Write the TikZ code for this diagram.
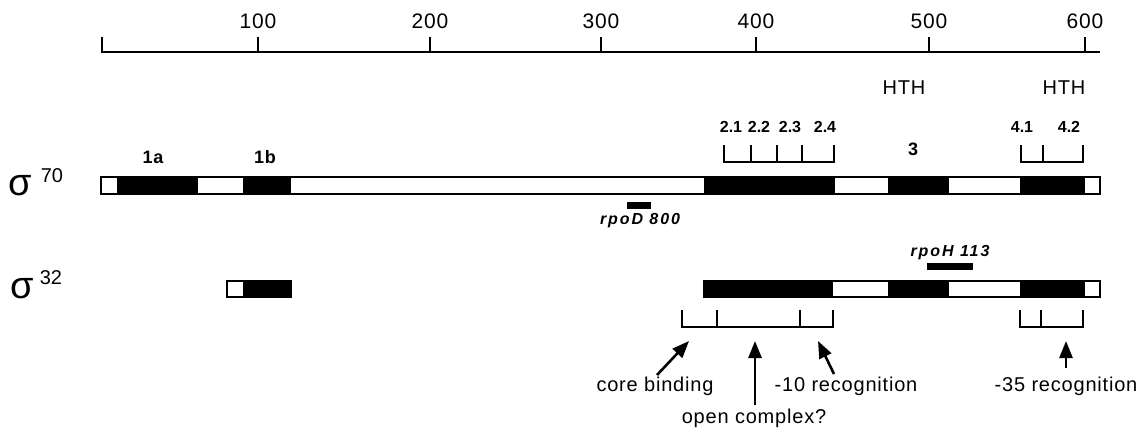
\documentclass[tikz,border=0pt]{standalone}
\usepackage{fontspec}
\setmainfont{Liberation Sans}
\newfontfamily\lblfont[LetterSpace=4]{Liberation Sans}
\newfontfamily\genefont[LetterSpace=12]{Liberation Sans}
\usetikzlibrary{arrows.meta}
\begin{document}
\begin{tikzpicture}[x=1pt,y=-1pt,
  rule/.style={line width=1.8pt},
  barline/.style={line width=1.8pt},
  blk/.style={fill=black},
  lbl/.style={inner sep=0pt},
  ticklbl/.style={lbl,font=\lblfont\fontsize{21}{25}\selectfont},
  regionlbl/.style={lbl,font=\lblfont\fontsize{18}{22}\selectfont\bfseries},
  sublbl/.style={lbl,font=\fontsize{16}{19}\selectfont\bfseries},
  hthlbl/.style={lbl,font=\lblfont\fontsize{20}{24}\selectfont},
  siglbl/.style={lbl,font=\fontsize{38}{44}\selectfont},
  supl/.style={lbl,font=\fontsize{20}{24}\selectfont},
  genelbl/.style={lbl,font=\genefont\fontsize{16}{19}\selectfont\bfseries\itshape},
  funclbl/.style={lbl,font=\lblfont\fontsize{20}{24}\selectfont},
  bigarrow/.style={line width=2.6pt,-{Triangle[length=17pt,width=13pt]}}]
\useasboundingbox (0,0) rectangle (1139,432);

% ---- residue scale ----
\draw[rule] (101,52) -- (1100,52);
\foreach \xx/\lab in {258/100,430/200,601/300,756/400,929/500,1085/600}{
  \draw[rule] (\xx,37) -- (\xx,52);
  \node[ticklbl] (t\lab) at (\xx,21) {\lab};
}
\draw[rule] (102,37) -- (102,52);

% ---- sigma 70 ----
\node[siglbl] (s70) at (20,186) {σ};
\node[supl] (s70n) at (52,176) {70};
\foreach \a/\b in {117/198,243/291,704/835,888/949,1020/1085}
  \fill[blk] (\a,177) rectangle (\b,194);
\draw[barline] (101,177) rectangle (1100,194);

\node[regionlbl] (r1a) at (153,157) {1a};
\node[regionlbl] (r1b) at (265,157) {1b};
\node[regionlbl] (r3) at (913,149) {3};
\node[hthlbl] (hth1) at (904,88) {HTH};
\node[hthlbl] (hth2) at (1064,88) {HTH};

% subregion brackets above sigma 70
\draw[rule] (724,145) -- (724,162) -- (834,162) -- (834,145);
\foreach \xx in {751,777,802} \draw[rule] (\xx,145) -- (\xx,162);
\draw[rule] (1021,145) -- (1021,162) -- (1083,162) -- (1083,145);
\draw[rule] (1043,145) -- (1043,162);
\node[sublbl] (r21) at (731,127) {2.1};
\node[sublbl] (r22) at (759,127) {2.2};
\node[sublbl] (r23) at (790,127) {2.3};
\node[sublbl] (r24) at (825,127) {2.4};
\node[sublbl] (r41) at (1022,127) {4.1};
\node[sublbl] (r42) at (1069,127) {4.2};

% rpoD 800
\fill[blk] (627,202) rectangle (651,209);
\node[genelbl] (rpoD) at (640,221) {rpoD 800};

% ---- sigma 32 ----
\node[siglbl] (s32) at (22,289) {σ};
\node[supl] (s32n) at (51,278) {32};
\fill[blk] (243,281) rectangle (291,297);
\draw[barline] (227,281) rectangle (291,297);
\foreach \a/\b in {704/833,888/949,1020/1085}
  \fill[blk] (\a,281) rectangle (\b,297);
\draw[barline] (704,281) rectangle (1100,297);

% rpoH 113
\fill[blk] (927,263) rectangle (973,270);
\node[genelbl] (rpoH) at (950,253) {rpoH 113};

% functional brackets below sigma 32
\draw[rule] (682,310) -- (682,327) -- (833,327) -- (833,310);
\foreach \xx in {717,800} \draw[rule] (\xx,310) -- (\xx,327);
\draw[rule] (1020,310) -- (1020,327) -- (1083,327) -- (1083,310);
\draw[rule] (1041,310) -- (1041,327);

% functional labels and arrows
\node[funclbl] (core) at (655,386) {core binding};
\node[funclbl] (open) at (754,418) {open complex?};
\node[funclbl] (m10) at (846,386) {-10 recognition};
\node[funclbl] (m35) at (1066,386) {-35 recognition};
\coordinate (coreTip) at (689,341);
\coordinate (openTip) at (755,341);
\coordinate (m10Tip) at (818,341);
\coordinate (m35Tip) at (1066,341);
\draw[bigarrow] (657,375) -- (coreTip);
\draw[bigarrow] (open.north -| openTip) ++(0,-3) -- (openTip);
\draw[bigarrow] (834,374) -- (m10Tip);
\draw[bigarrow] (1066,368) -- (m35Tip);
\end{tikzpicture}
\end{document}
